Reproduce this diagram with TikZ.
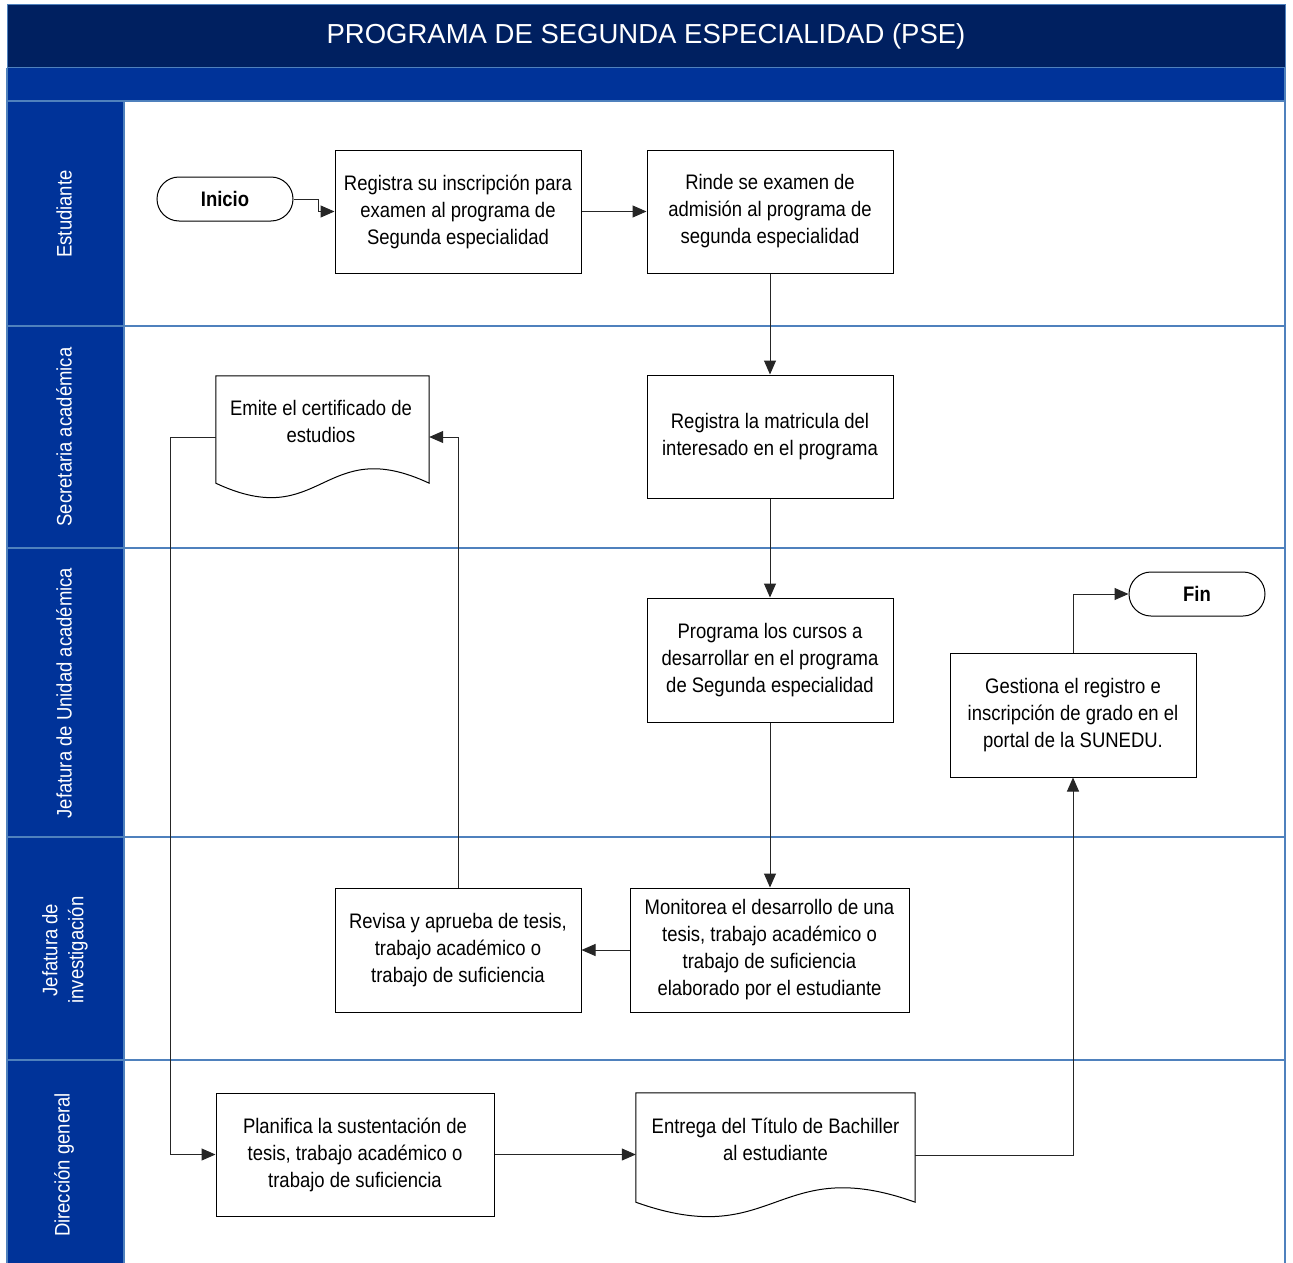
\documentclass[tikz,border=0pt]{standalone}
\usepackage{fontspec}
\setmainfont{Liberation Sans}
\newfontfamily\narrowsf{Liberation Sans}[FakeStretch=0.88]
\usetikzlibrary{positioning, calc, shapes, arrows.meta}
\definecolor{pseNavy}{RGB}{0,32,96}
\definecolor{pseBlue}{RGB}{0,51,153}
\definecolor{pseLine}{RGB}{79,129,189}
\newcommand{\docshape}[1]{%
  \draw[line width=1pt] (#1.north west) -- (#1.north east) -- ($(#1.south east)+(0,-15)$)
    .. controls ($(#1.south)+(0,-65)$) and ($(#1.south)+(0,35)$) .. ($(#1.south west)+(0,-15)$) -- cycle;}

\begin{document}
\begin{tikzpicture}[x=1pt, y=-1pt,
  every node/.style={font=\narrowsf\fontsize{21}{27}\selectfont, inner sep=2pt},
  proc/.style={rectangle, draw, line width=1pt, minimum width=246pt, minimum height=123pt, align=center},
  term/.style={rectangle, draw, line width=1pt, rounded corners=22pt, minimum width=136pt, minimum height=44pt, font=\narrowsf\bfseries\fontsize{21}{27}\selectfont},
  docbox/.style={rectangle, minimum width=213pt, minimum height=122pt},
  doctext/.style={align=center},
  lane/.style={text=white, rotate=90, align=center, font=\narrowsf\fontsize{21}{26}\selectfont},
  sep/.style={pseLine, line width=1.2pt},
  flow/.style={line width=1pt, black!85, -{Triangle[length=14pt,width=12pt]}}]
  \useasboundingbox (0,0) rectangle (1293,1263);
  \fill[white] (0,0) rectangle (1293,1263);
  \fill[pseNavy] (7,5) rectangle (1285,68);
  \fill[pseBlue] (7,68) rectangle (1285,101);
  \fill[pseBlue] (7,101) rectangle (124,1263);
  \draw[pseLine, line width=1pt] (7,5) rectangle (1285,68);
  \draw[sep] (7,101) -- (1285,101);
  \draw[sep] (7,326) -- (1285,326);
  \draw[sep] (7,548) -- (1285,548);
  \draw[sep] (7,837) -- (1285,837);
  \draw[sep] (7,1060) -- (1285,1060);
  \draw[sep] (7,68) -- (7,1263);
  \draw[sep] (124,101) -- (124,1263);
  \draw[sep] (1285,68) -- (1285,1263);
  \node[text=white, font=\fontsize{27.5}{30}\selectfont] (title) at (646,36) {PROGRAMA DE SEGUNDA ESPECIALIDAD (PSE)};
  \node[lane] (lane1) at (64,214) {Estudiante};
  \node[lane] (lane2) at (64,437) {Secretaria académica};
  \node[lane] (lane3) at (64,693) {Jefatura de Unidad académica};
  \node[lane] (lane4) at (65,950) {Jefatura de\\investigación};
  \node[lane] (lane5) at (64,1165) {Dirección general};
  \node[term] (inicio) at (225,199) {Inicio};
  \node[proc] (a1) at (458,211.5) {Registra su inscripción para\\examen al programa de\\Segunda especialidad};
  \node[proc] (a2) at (770,211.5) {Rinde se examen de\\admisión al programa de\\segunda especialidad};
  \node[proc] (b1) at (770,436.5) {Registra la matricula del\\interesado en el programa};
  \node[docbox] (doc1) at (322.5,437) {};
  \node[doctext] (doc1txt) at (321,421) {Emite el certificado de\\estudios};
  \node[proc, minimum height=124pt] (c1) at (770,660) {Programa los cursos a\\desarrollar en el programa\\de Segunda especialidad};
  \node[proc, minimum height=124pt] (c2) at (1073,715) {Gestiona el registro e\\inscripción de grado en el\\portal de la SUNEDU.};
  \node[term] (fin) at (1197,594) {Fin};
  \node[proc, minimum height=124pt] (d1) at (458,950) {Revisa y aprueba de tesis,\\trabajo académico o\\trabajo de suficiencia};
  \node[proc, minimum width=279pt, minimum height=124pt] (d2) at (769.5,950) {Monitorea el desarrollo de una\\tesis, trabajo académico o\\trabajo de suficiencia\\elaborado por el estudiante};
  \node[proc, minimum width=278pt] (e1) at (355,1154.5) {Planifica la sustentación de\\tesis, trabajo académico o\\trabajo de suficiencia};
  \node[docbox, minimum width=279pt, minimum height=124pt] (doc2) at (775.5,1155) {};
  \node[doctext] (doc2txt) at (775.5,1139.5) {Entrega del Título de Bachiller\\al estudiante};
  \docshape{doc1}
  \docshape{doc2}
  \draw[flow] (inicio.east) -- ++(25,0) |- (a1.west);
  \draw[flow] (a1) -- (a2);
  \draw[flow] (a2) -- (b1);
  \draw[flow] (b1) -- (c1);
  \draw[flow] (c1.south) -- (c1.south |- d2.north);
  \draw[flow] (d2) -- (d1);
  \draw[flow] (d1.north) |- (doc1.east);
  \draw[flow] (doc1.west) -- ++(-45,0) |- (e1.west);
  \draw[flow] (e1.east) -- (e1.east -| doc2.west);
  \draw[flow] (doc2.east) -| (c2.south);
  \draw[flow] (c2.north) |- (fin.west);
\end{tikzpicture}
\end{document}
